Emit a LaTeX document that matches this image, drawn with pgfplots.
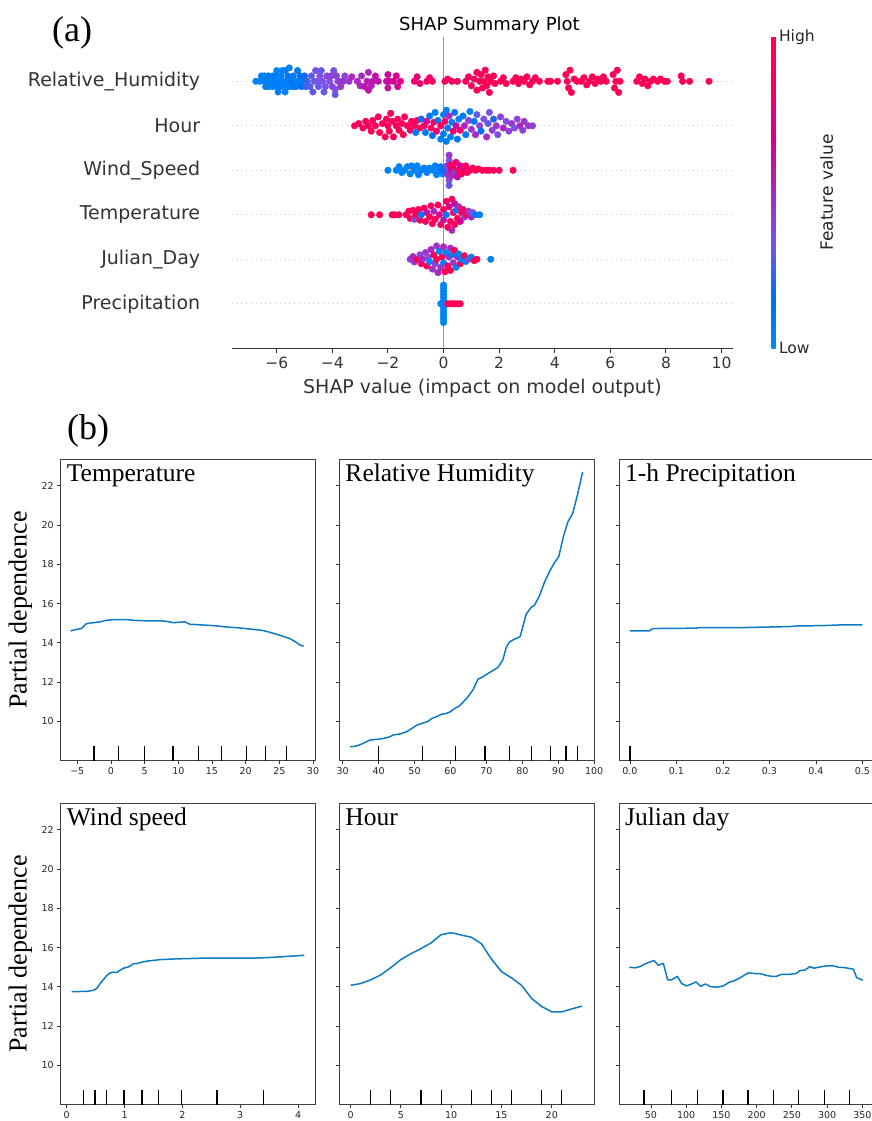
\documentclass[border=0pt]{standalone}
\usepackage{pgfplots}
\pgfplotsset{compat=1.18}
\usepackage{fontspec}
\setmainfont{Liberation Serif}
\newfontfamily\dejavu{DejaVu Sans}
\definecolor{pdblue}{RGB}{14,122,196}
\definecolor{txtgray}{RGB}{51,51,51}
\pgfplotsset{
  every axis title shift=0pt,
  pd/.style={scale only axis, width=255pt, height=301.4pt, anchor=north west,
    ymin=8, ymax=23.35, ytick={10,12,...,22},
    tick align=outside, major tick length=3.5pt,
    xtick pos=lower, ytick pos=left,
    axis line style={black!75, line width=0.8pt},
    tick style={black!80, line width=0.8pt},
    ticklabel style={font=\dejavu\fontsize{9.5}{11}\selectfont, text=black!85},
    title style={at={(0.0235,0.9257)}, anchor=base west, inner sep=0pt, font=\fontsize{25.5}{28}\selectfont},
    ylabel style={at={(axis description cs:-0.158,0.5)}, anchor=center, font=\fontsize{26}{30}\selectfont},
  },
  pdline/.style={pdblue, line width=1.5pt, mark=none, line join=round},
  dec/.style={ycomb, black, line width=1.2pt, mark=none},
  bee/.style={scatter, only marks, mark=*, mark size=3.3pt, scatter src=explicit},
}
\begin{document}
\begin{tikzpicture}
% ---------------- (a) SHAP summary ----------------
\begin{axis}[scale only axis, width=501.5pt, height=311.5pt,
  at={(231.7pt,1084.2pt)}, anchor=north west,
  xmin=-7.62, xmax=10.42, ymin=-1, ymax=6,
  xtick={-6,-4,...,10}, xticklabels={−6,−4,−2,0,2,4,6,8,10},
  ytick={0,1,2,3,4,5},
  yticklabels={Precipitation,Julian\_Day,Temperature,Wind\_Speed,Hour,Relative\_Humidity},
  axis x line*=bottom, axis y line*=left,
  y axis line style={draw=none}, ytick style={draw=none},
  x axis line style={black!80, line width=1pt},
  xtick style={black!80, line width=1pt},
  tick align=outside, major tick length=5pt,
  xticklabel style={font=\dejavu\fontsize{15.5}{18}\selectfont, text=txtgray},
  yticklabel style={font=\dejavu\fontsize{19}{22}\selectfont, text=txtgray, xshift=-23pt},
  ymajorgrids, major grid style={gray!45, line width=0.6pt, dash pattern=on 0.8pt off 4pt},
  xlabel={SHAP value (impact on model output)},
  xlabel style={at={(axis description cs:0.5,-0.1275)}, anchor=center, font=\dejavu\fontsize{19}{22}\selectfont, text=txtgray},
  title={SHAP Summary Plot},
  title style={at={(axis description cs:0.514,1.036)}, anchor=center, font=\dejavu\fontsize{18}{21}\selectfont, text=black},
  colormap={shap}{rgb255=(0,138,250) rgb255=(0,108,245) rgb255=(120,85,230) rgb255=(170,40,190) rgb255=(210,0,150) rgb255=(245,0,105) rgb255=(255,0,82)},
  point meta min=0, point meta max=1,
  colorbar,
  colorbar style={scale only axis, width=4pt, height=311.5pt, at={(parent axis.north east)}, xshift=29.8pt, anchor=north west,
    ytick={0,1}, yticklabels={Low,High}, major tick length=0pt, axis line style={draw=none}, ytick style={draw=none},
    yticklabel style={font=\dejavu\fontsize{15.5}{18}\selectfont, text=black!85},
    ylabel={Feature value},
    ylabel style={at={(axis description cs:13.75,0.5)}, anchor=center, font=\dejavu\fontsize{17}{20}\selectfont, text=black!85}},
  scatter/use mapped color={draw=mapped color, fill=mapped color},
]
\addplot[black!42, line width=1.6pt, mark=none] coordinates {(0,-1) (0,6)};
% Relative humidity (row 5)
\addplot[bee] table[meta=c] {
x y c
-6.75 5 0.05
-6.6 5 0.05
-6.55 5.12 0.05
-6.45 5 0.05
-6.45 5.12 0.05
-6.4 4.88 0.05
-6.3 4.88 0.05
-6.3 5 0.05
-6.3 5.12 0.08
-6.15 5 0.05
-6.15 4.88 0.05
-6.15 5.12 0.05
-6.05 5.12 0.08
-6.0 5 0.05
-6.0 5.24 0.05
-6.0 4.88 0.1
-5.95 4.76 0.05
-5.85 5.12 0.05
-5.85 4.88 0.05
-5.85 5 0.08
-5.8 5.24 0.05
-5.7 5 0.05
-5.7 5.24 0.05
-5.7 4.76 0.05
-5.65 4.88 0.08
-5.6 5.12 0.1
-5.55 4.88 0.05
-5.55 5.3 0.05
-5.5 5 0.1
-5.4 5 0.1
-5.4 5.12 0.05
-5.4 4.88 0.1
-5.3 4.88 0.1
-5.25 5 0.05
-5.25 5.24 0.1
-5.15 5.12 0.12
-5.1 4.88 0.15
-5.1 5 0.1
-5.0 5.12 0.2
-4.95 4.88 0.25
-4.9 5 0.25
-4.8 4.88 0.3
-4.75 5.12 0.3
-4.7 4.76 0.3
-4.65 5 0.3
-4.6 5.24 0.35
-4.55 5 0.35
-4.5 4.88 0.3
-4.45 5.12 0.35
-4.4 5.24 0.3
-4.35 5 0.35
-4.3 4.76 0.3
-4.25 4.88 0.35
-4.2 5.12 0.4
-4.1 5 0.35
-4.05 5.12 0.4
-4.0 4.88 0.4
-3.95 5.24 0.35
-3.9 4.7 0.3
-3.9 4.82 0.35
-3.85 5.12 0.4
-3.8 5 0.4
-3.7 4.88 0.45
-3.65 5 0.45
-3.6 5 0.45
-3.55 5.12 0.4
-3.4 5 0.45
-3.3 5.1 0.5
-3.1 5 0.5
-3.0 4.9 0.5
-2.95 5.12 0.5
-2.85 4.88 0.55
-2.75 5 0.55
-2.7 5.2 0.5
-2.7 4.8 0.6
-2.6 4.9 0.55
-2.55 5 0.55
-2.45 5.12 0.6
-2.35 5 0.6
-2.05 5 0.6
-2.0 5.15 0.65
-2.0 4.85 0.6
-1.95 5 0.65
-1.8 5 0.65
-1.7 5.12 0.7
-1.65 4.88 0.65
-1.55 5 0.7
-1.05 5 0.8
-0.95 5.1 0.8
-0.85 4.95 0.82
-0.6 5 0.85
-0.5 5.08 0.85
-0.4 5 0.85
0.05 5 0.9
0.15 5.05 0.9
0.3 5 0.9
0.5 5 0.92
0.8 5 0.93
0.9 5.1 0.93
1.0 4.9 0.95
1.1 5.05 0.95
1.2 5.2 0.95
1.2 4.8 0.95
1.3 5 0.95
1.35 5.15 0.97
1.4 4.85 0.95
1.45 5 0.98
1.5 5.25 0.97
1.55 4.9 0.98
1.6 5.1 0.95
1.65 4.75 0.98
1.7 5 0.98
1.8 5.12 0.97
1.85 4.95 0.98
2.05 5 0.98
2.15 5.08 0.98
2.25 4.95 0.98
2.5 5 0.98
2.6 5.08 0.98
2.7 4.95 0.98
2.8 5.05 0.98
2.9 5 0.98
3.0 5.1 0.98
3.1 4.92 0.98
3.2 5 0.98
3.3 5.08 0.98
3.45 5 0.98
3.75 5 0.98
3.85 5 0.98
4.1 5 0.98
4.4 5.15 0.98
4.45 5 0.98
4.5 4.85 0.98
4.55 5.25 0.98
4.6 4.75 0.98
4.7 5.05 0.98
4.8 5 0.98
4.95 5 0.98
5.05 5.08 0.98
5.15 4.92 0.98
5.25 5 0.98
5.35 5.1 0.98
5.45 4.95 0.98
5.55 5.05 0.98
5.65 5 0.98
5.75 5.1 0.98
5.85 5 0.98
6.1 5.15 0.98
6.15 4.85 0.98
6.2 5 0.98
6.25 5.25 0.98
6.3 4.75 0.98
6.35 5 0.98
6.95 5 0.98
7.05 5.1 0.98
7.15 4.95 0.98
7.25 5.05 0.98
7.35 4.9 0.98
7.45 5 0.98
7.55 5.05 0.98
7.7 5 0.98
7.8 5.05 0.98
7.95 5 0.98
8.05 5 0.98
8.55 5.12 0.98
8.6 5 0.98
8.85 5 0.98
9.55 5 1.0
};
% Hour (row 4)
\addplot[bee] table[meta=c] {
x y c
-3.2 4 0.95
-3.05 4.05 0.98
-2.9 3.95 0.95
-2.8 4.1 0.98
-2.7 4 0.95
-2.6 3.88 0.98
-2.55 4.12 0.95
-2.45 4 0.98
-2.35 4.2 0.95
-2.3 3.85 0.98
-2.2 4.05 0.98
-2.1 3.75 0.95
-2.05 4.15 0.98
-2.0 4 0.9
-1.95 3.88 0.98
-1.9 4.28 0.95
-1.85 4.1 0.98
-1.8 3.75 0.95
-1.7 4 0.98
-1.65 4.15 0.9
-1.6 3.9 0.98
-1.5 4.05 0.95
-1.45 3.8 0.98
-1.4 4.2 0.95
-1.3 4 0.98
-1.2 3.9 0.9
-1.15 4.1 0.95
-1.05 4 0.85
-1.0 3.85 0.1
-0.95 4.12 0.95
-0.85 3.95 0.9
-0.8 4.15 0.2
-0.7 4 0.95
-0.65 3.85 0.1
-0.6 4.1 0.7
-0.5 4.22 0.1
-0.45 3.95 0.95
-0.4 3.78 0.15
-0.35 4.08 0.9
-0.3 4.3 0.05
-0.25 3.88 0.8
-0.2 4.12 0.1
-0.1 3.7 0.05
-0.1 4 0.95
0.0 4.25 0.05
0.0 3.82 0.1
0.05 4.1 0.9
0.1 4.35 0.05
0.1 3.65 0.05
0.15 3.95 0.1
0.2 4.22 0.5
0.25 3.75 0.05
0.3 4.08 0.05
0.35 3.88 0.9
0.4 4.3 0.1
0.45 4 0.6
0.5 3.7 0.1
0.55 4.15 0.05
0.6 3.9 0.85
0.7 4.22 0.1
0.75 4 0.5
0.8 3.8 0.1
0.9 4.12 0.4
0.95 4.32 0.05
1.0 3.92 0.45
1.1 4.1 0.1
1.15 3.8 0.5
1.2 4.25 0.3
1.3 4 0.4
1.35 3.88 0.15
1.45 4.15 0.35
1.55 3.75 0.5
1.6 4.05 0.3
1.65 4.3 0.35
1.75 3.9 0.4
1.8 4.15 0.2
1.9 4 0.45
1.95 3.8 0.35
2.05 4.2 0.4
2.15 3.95 0.5
2.25 4.1 0.35
2.35 3.88 0.4
2.45 4.05 0.45
2.55 3.95 0.35
2.65 4.15 0.4
2.75 4 0.5
2.85 3.9 0.4
2.9 4.1 0.45
3.05 4 0.45
3.2 4 0.4
};
% Wind speed (row 3)
\addplot[bee] table[meta=c] {
x y c
-2.0 3 0.05
-1.7 3 0.05
-1.6 3.08 0.05
-1.5 2.95 0.05
-1.4 3 0.05
-1.3 3.08 0.05
-1.2 2.92 0.05
-1.15 3.1 0.05
-1.05 3 0.05
-0.95 3.1 0.05
-0.9 2.9 0.05
-0.8 3 0.05
-0.7 3.05 0.05
-0.6 2.95 0.05
-0.5 3.05 0.05
-0.4 3 0.05
-0.3 3.1 0.05
-0.25 2.9 0.05
-0.15 3 0.05
-0.1 3.08 0.1
-0.05 2.92 0.05
0.0 3 0.2
0.12 3.1 0.4
0.15 2.9 0.5
0.2 3.22 0.35
0.2 2.78 0.4
0.2 3.34 0.45
0.2 2.66 0.3
0.25 3 0.6
0.25 3.12 0.85
0.3 2.88 0.5
0.35 3.05 0.9
0.4 2.95 0.45
0.45 3.18 0.8
0.5 2.85 0.6
0.55 3 0.9
0.6 3.1 0.7
0.65 2.92 0.95
0.75 3 0.8
0.8 3.1 0.9
0.85 2.95 0.95
0.95 3 0.85
1.05 3.05 0.95
1.15 3 0.98
1.25 3.03 0.95
1.4 3 0.98
1.55 3 0.95
1.65 3 0.98
1.8 3 0.9
2.0 3 0.85
2.5 3 0.98
};
% Temperature (row 2)
\addplot[bee] table[meta=c] {
x y c
-2.6 2 0.98
-2.3 2 0.98
-1.85 2 0.98
-1.75 2 0.95
-1.6 2 0.98
-1.35 2 0.98
-1.25 2.08 0.95
-1.2 1.92 0.9
-1.1 2.1 0.98
-1.05 1.9 0.4
-1.0 2 0.95
-0.9 2.12 0.98
-0.85 1.88 0.9
-0.8 2 0.1
-0.7 2.15 0.95
-0.65 1.85 0.98
-0.6 2.05 0.6
-0.5 1.95 0.95
-0.45 2.2 0.9
-0.4 1.8 0.98
-0.35 2.08 0.5
-0.3 1.9 0.95
-0.2 2.22 0.98
-0.15 2 0.7
-0.1 1.78 0.9
0.0 2.12 0.95
0.0 1.88 0.6
0.1 2.3 0.9
0.1 2 0.1
0.15 1.72 0.95
0.2 2.18 0.7
0.25 1.85 0.95
0.3 2.35 0.95
0.3 1.65 0.5
0.35 2.05 0.9
0.4 2.25 0.6
0.4 1.78 0.9
0.45 2.1 0.05
0.5 1.92 0.95
0.55 2.18 0.5
0.6 1.85 0.7
0.65 2.05 0.95
0.7 2.12 0.9
0.75 1.95 0.45
0.85 2 0.95
0.9 2.08 0.45
1.0 1.95 0.5
1.05 2.05 0.35
1.15 2 0.1
1.3 2 0.05
};
% Julian day (row 1)
\addplot[bee] table[meta=c] {
x y c
-1.2 1 0.4
-1.1 1.06 0.5
-1.05 0.94 0.45
-0.95 1 0.98
-0.85 1.1 0.4
-0.8 0.9 0.95
-0.75 1 0.5
-0.65 1.15 0.45
-0.6 0.85 0.98
-0.55 1.05 0.35
-0.5 0.95 0.05
-0.45 1.22 0.5
-0.4 0.78 0.45
-0.35 1.1 0.95
-0.3 0.9 0.4
-0.25 1.3 0.45
-0.25 1 0.98
-0.2 0.7 0.5
-0.15 1.18 0.05
-0.1 0.82 0.45
-0.05 1.05 0.95
0.0 1.28 0.5
0.0 0.92 0.05
0.05 0.72 0.98
0.1 1.15 0.05
0.15 0.85 0.98
0.2 1.05 0.45
0.25 1.25 0.5
0.25 0.75 0.98
0.3 1.1 0.05
0.35 0.92 0.45
0.4 1.2 0.98
0.45 0.82 0.05
0.5 1.05 0.5
0.55 1.12 0.05
0.6 0.9 0.95
0.65 1 0.05
0.75 1.08 0.98
0.8 0.95 0.05
0.9 1 0.4
1.0 1.05 0.05
1.1 0.97 0.95
1.2 1 0.98
1.7 1 0.05
};
% Precipitation (row 0)
\addplot[bee] table[meta=c] {
x y c
0 -0.42 0.03
0 -0.35 0.03
0 -0.28 0.03
0 -0.21 0.03
0 -0.14 0.03
0 -0.07 0.03
0 0 0.03
0 0.07 0.03
0 0.14 0.03
0 0.21 0.03
0 0.28 0.03
0 0.35 0.03
0 0.42 0.03
-0.1 0 0.03
0.15 0 0.98
0.25 0 0.98
0.3 0 0.98
0.4 0 0.98
0.5 0 0.98
0.6 0 0.98
};
\end{axis}
% ---------------- (b) partial dependence ----------------
\begin{axis}[pd, at={(60.7pt,661.7pt)}, xmin=-7.46, xmax=30.4,
  xtick={-5,0,5,10,15,20,25,30}, xticklabels={−5,0,5,10,15,20,25,30},
  yticklabels={10,12,14,16,18,20,22}, ylabel={Partial dependence}, title={Temperature}]
\addplot[pdline] coordinates {(-5.99,14.61) (-5.1,14.69) (-4.36,14.73) (-3.71,14.97) (-2.87,15.02) (-1.64,15.07) (-0.65,15.15) (0.59,15.19) (2.32,15.19) (3.30,15.15) (5.28,15.12) (7.26,15.12) (8.25,15.10) (9.24,15.03) (10.22,15.05) (10.97,15.07) (11.71,14.95) (13.19,14.92) (15.17,14.88) (17.15,14.81) (19.12,14.76) (21.1,14.69) (22.58,14.63) (23.57,14.54) (25.05,14.39) (26.54,14.22) (27.28,14.08) (28.02,13.90) (28.61,13.83)};
\addplot[dec] coordinates {(-2.52,8.77) (1.08,8.77) (5.0,8.77) (9.2,8.77) (13.05,8.77) (16.46,8.77) (20.12,8.77) (22.94,8.77) (26.05,8.77)};
\end{axis}
\begin{axis}[pd, at={(339.3pt,661.7pt)}, xmin=29.06, xmax=100.03,
  xtick={30,40,...,100}, xticklabels={30,40,50,60,70,80,90,100},
  yticklabels={,,,,,,}, title={Relative Humidity}]
\addplot[pdline] coordinates {(32.04,8.71) (33.42,8.73) (34.81,8.81) (36.20,8.93) (37.59,9.05) (38.97,9.08) (40.36,9.10) (41.75,9.15) (43.14,9.22) (44.06,9.31) (45.91,9.36) (47.76,9.47) (49.15,9.63) (50.54,9.80) (52.39,9.92) (53.77,10.0) (54.70,10.14) (56.09,10.24) (57.47,10.36) (58.86,10.41) (59.79,10.47) (61.17,10.66) (62.56,10.80) (63.95,11.07) (64.87,11.25) (66.26,11.61) (67.65,12.15) (69.04,12.27) (70.43,12.44) (71.81,12.59) (73.20,12.75) (74.59,13.14) (75.51,13.76) (76.44,14.05) (77.83,14.19) (79.40,14.32) (81.06,15.46) (82.45,15.81) (83.38,15.92) (84.76,16.39) (86.15,17.08) (87.54,17.63) (88.93,18.08) (90.13,18.39) (91.42,19.41) (92.63,20.14) (94.01,20.59) (95.40,21.58) (96.79,22.71)};
\addplot[dec] coordinates {(40.08,8.77) (52.11,8.77) (61.36,8.77) (69.59,8.77) (76.44,8.77) (82.45,8.77) (87.82,8.77) (92.16,8.77) (95.31,8.77)};
\end{axis}
\begin{axis}[pd, at={(619pt,661.7pt)}, xmin=-0.0236, xmax=0.525,
  xtick={0,0.1,0.2,0.3,0.4,0.5}, xticklabels={0.0,0.1,0.2,0.3,0.4,0.5},
  yticklabels={,,,,,,}, title={1-h Precipitation}]
\addplot[pdline] coordinates {(0,14.61) (0.0415,14.61) (0.050,14.73) (0.143,14.75) (0.150,14.78) (0.244,14.78) (0.344,14.83) (0.358,14.86) (0.415,14.88) (0.458,14.92) (0.5,14.92)};
\addplot[dec] coordinates {(0,8.77)};
\end{axis}
\begin{axis}[pd, at={(60.7pt,317.7pt)}, xmin=-0.104, xmax=4.305,
  xtick={0,1,2,3,4}, xticklabels={0,1,2,3,4},
  yticklabels={10,12,14,16,18,20,22}, ylabel={Partial dependence}, title={Wind speed}]
\addplot[pdline] coordinates {(0.087,13.76) (0.173,13.76) (0.375,13.78) (0.462,13.83) (0.519,13.92) (0.577,14.17) (0.635,14.37) (0.693,14.58) (0.750,14.71) (0.808,14.75) (0.866,14.73) (0.924,14.85) (0.981,14.95) (1.068,15.02) (1.126,15.12) (1.154,15.19) (1.212,15.19) (1.270,15.24) (1.385,15.31) (1.616,15.39) (1.847,15.42) (2.078,15.44) (2.309,15.46) (2.886,15.46) (3.175,15.46) (3.463,15.49) (3.752,15.54) (4.110,15.61)};
\addplot[dec] coordinates {(0.29,8.77) (0.49,8.77) (0.69,8.77) (0.99,8.77) (1.3,8.77) (1.59,8.77) (1.99,8.77) (2.6,8.77) (3.4,8.77)};
\end{axis}
\begin{axis}[pd, at={(339.3pt,317.7pt)}, xmin=-1.12, xmax=24.23,
  xtick={0,5,10,15,20}, xticklabels={0,5,10,15,20},
  yticklabels={,,,,,,}, title={Hour}]
\addplot[pdline] coordinates {(0,14.08) (1,14.17) (2,14.36) (3,14.61) (4,14.98) (5,15.39) (6,15.69) (7,15.95) (8,16.24) (9,16.66) (10,16.76) (11,16.64) (12,16.53) (13,16.20) (14,15.42) (15,14.78) (16,14.46) (17,14.08) (18,13.41) (19,13.0) (20,12.73) (21,12.73) (22,12.88) (23,13.02)};
\addplot[dec] coordinates {(2,8.77) (4,8.77) (7,8.77) (9,8.77) (12,8.77) (14,8.77) (16,8.77) (19,8.77) (21,8.77)};
\end{axis}
\begin{axis}[pd, at={(619pt,317.7pt)}, xmin=4.6, xmax=366.6,
  xtick={50,100,...,350}, xticklabels={50,100,150,200,250,300,350},
  yticklabels={,,,,,,}, title={Julian day}]
\addplot[pdline] coordinates {(19.2,15.0) (27.3,14.97) (34.4,15.03) (41.5,15.17) (48.6,15.27) (54.3,15.34) (60.4,15.10) (67.5,15.20) (73.7,14.36) (79.3,14.36) (87.4,14.54) (93.5,14.17) (100.6,14.05) (107.7,14.15) (113.9,14.25) (120.5,14.03) (127.6,14.15) (133.8,14.02) (143.2,13.98) (152.7,14.05) (161.2,14.24) (168.3,14.31) (176.4,14.46) (182.0,14.59) (188.2,14.71) (197.7,14.68) (204.8,14.68) (214.2,14.58) (221.3,14.54) (228.4,14.54) (235.5,14.64) (247.3,14.64) (255.9,14.68) (261.5,14.83) (268.6,14.86) (275.7,15.03) (281.4,14.95) (289.9,15.02) (299.4,15.07) (308.9,15.07) (316.0,15.0) (325.4,14.98) (337.3,14.90) (342.0,14.47) (350.5,14.34)};
\addplot[dec] coordinates {(40.1,8.77) (79.3,8.77) (115.8,8.77) (152.2,8.77) (187.7,8.77) (223.7,8.77) (259.7,8.77) (296.1,8.77) (331.6,8.77)};
\end{axis}
\node[anchor=west, inner sep=0pt, font=\fontsize{36}{40}\selectfont] at (52pt,1088pt) {(a)};
\node[anchor=west, inner sep=0pt, font=\fontsize{36}{40}\selectfont] at (67pt,690pt) {(b)};
\pgfresetboundingbox
\useasboundingbox (0pt,0pt) rectangle (871pt,1121pt);
\end{tikzpicture}
\end{document}
